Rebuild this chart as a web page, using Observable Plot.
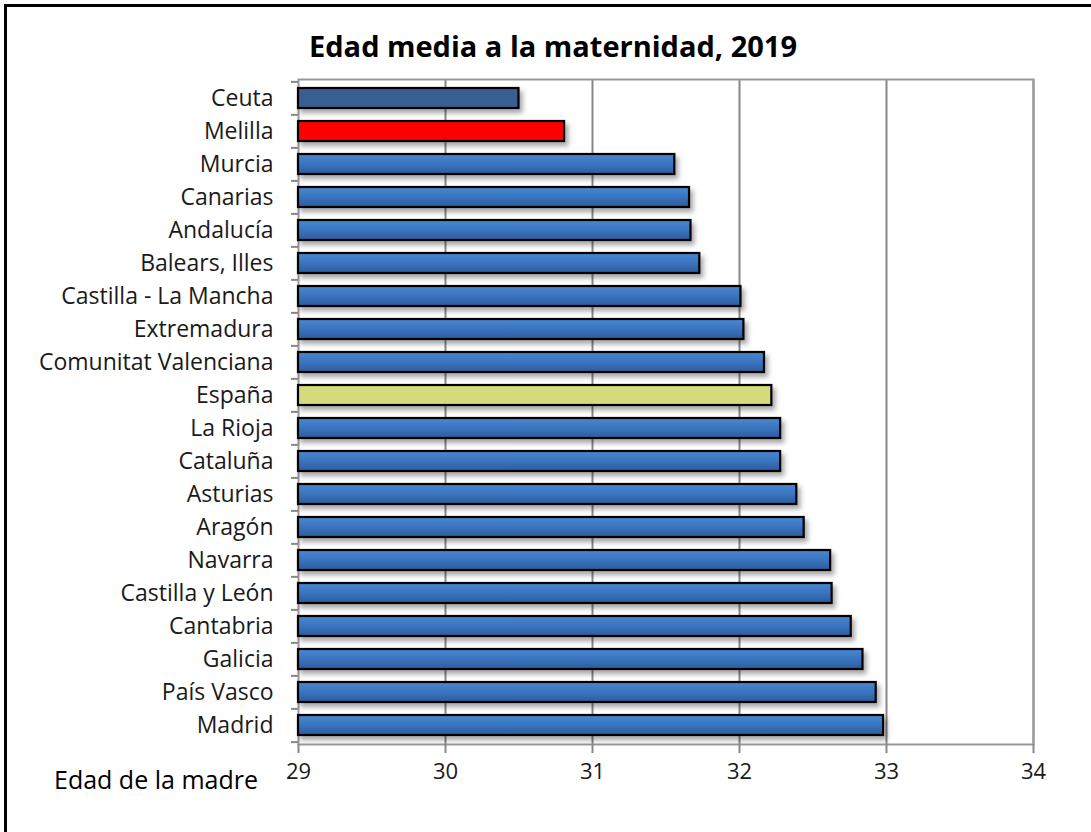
<!DOCTYPE html>
<html><head><meta charset="utf-8">
<script src="https://cdn.jsdelivr.net/npm/d3@7"></script>
<script src="https://cdn.jsdelivr.net/npm/@observablehq/plot@0.6"></script>
<style>
body{margin:0;background:#fff;}
#wrap{position:relative;width:1091px;height:832px;overflow:hidden;font-family:"Open Sans",Lato,sans-serif;color:#1a1a1a;}
#frame{position:absolute;left:4px;top:4px;width:1200px;height:1000px;border-left:3px solid #000;border-top:3px solid #000;box-sizing:border-box;}
#title{position:absolute;top:26px;left:0;width:1106px;text-align:center;font-weight:bold;font-size:29px;color:#000;}
#xlabel{position:absolute;left:54px;top:762px;font-size:25px;color:#000;}
#chart{position:absolute;left:0;top:0;}
</style></head><body>
<div id="wrap"><div id="frame"></div><div id="chart"></div><div id="title">Edad media a la maternidad, 2019</div><div id="xlabel">Edad de la madre</div></div>
<script>
const regions = ["Ceuta","Melilla","Murcia","Canarias","Andalucía","Balears, Illes","Castilla - La Mancha","Extremadura","Comunitat Valenciana","España","La Rioja","Cataluña","Asturias","Aragón","Navarra","Castilla y León","Cantabria","Galicia","País Vasco","Madrid"];
const ages = [30.50,30.81,31.56,31.66,31.67,31.73,32.01,32.03,32.17,32.22,32.28,32.28,32.39,32.44,32.62,32.63,32.76,32.84,32.93,32.98];
const xTicks = [29,30,31,32,33,34];

const data = regions.map((r,i)=>({region:r, age:ages[i]}));
const fillFor = r => r==="Ceuta" ? "#385f8f" : r==="Melilla" ? "#ff0000" : r==="España" ? "#d4db7c" : "url(#blueGrad)";
const W=1091,H=832,mT=79,mB=88,mL=298,mR=58;
const bw = (H-mT-mB)/regions.length;

const chart = Plot.plot({
  width:W, height:H, marginLeft:mL, marginRight:mR, marginTop:mT, marginBottom:mB,
  style:{fontFamily:"'Open Sans', Lato, sans-serif", fontSize:"21px", color:"#1a1a1a", background:"transparent", overflow:"visible"},
  x:{domain:[29,34], ticks:xTicks, tickFormat:d3.format("d"), label:null},
  y:{domain:regions, paddingInner:0.4, paddingOuter:0.2, label:null},
  color:{type:"identity"},
  marks:[
    Plot.gridX(xTicks.slice(1), {stroke:"#878787", strokeOpacity:1, strokeWidth:2}),
    Plot.frame({stroke:"#999", strokeWidth:2}),
    Plot.barX(data, {x1:29, x2:"age", y:"region", fill:d=>fillFor(d.region), stroke:"#000", strokeWidth:2.2}),
    Plot.axisY({tickSize:0, tickPadding:25, fontSize:23, label:null}),
    Plot.axisY({text:null, tickSize:7, dy:-bw/2, stroke:"#888", strokeWidth:2, label:null}),
    Plot.axisY([regions[regions.length-1]], {text:null, tickSize:7, dy:bw/2, stroke:"#888", strokeWidth:2, label:null}),
    Plot.axisX(xTicks, {tickSize:9, stroke:"#888", strokeWidth:2, text:null, label:null}),
    Plot.axisX(xTicks, {tickSize:0, tickPadding:19, fontSize:22, tickFormat:d3.format("d"), label:null})
  ]
});

const svg = d3.select(chart);
const defs = svg.insert("defs", ":first-child");
const g = defs.append("linearGradient").attr("id","blueGrad").attr("x1",0).attr("y1",0).attr("x2",0).attr("y2",1);
g.append("stop").attr("offset","0%").attr("stop-color","#4a87d2");
g.append("stop").attr("offset","50%").attr("stop-color","#3a74bf");
g.append("stop").attr("offset","100%").attr("stop-color","#2c5c9b");
const f = defs.append("filter").attr("id","shadow").attr("x","-5%").attr("y","-30%").attr("width","115%").attr("height","180%");
f.append("feDropShadow").attr("dx",3).attr("dy",4).attr("stdDeviation",2.5).attr("flood-color","#000").attr("flood-opacity",0.35);
svg.selectAll("g[aria-label='bar'] rect").attr("filter","url(#shadow)");

document.getElementById("chart").appendChild(chart);
</script>
</body></html>
